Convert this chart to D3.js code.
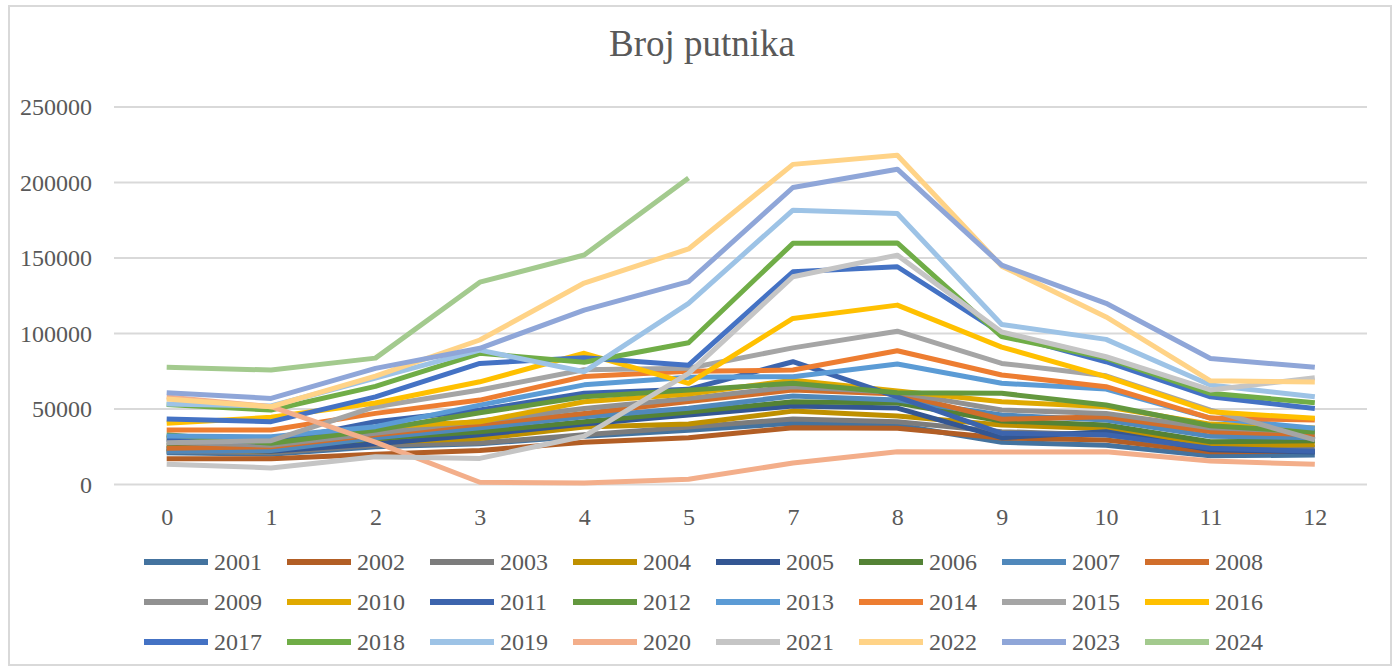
<!DOCTYPE html>
<meta charset="utf-8">
<script src="https://d3js.org/d3.v7.min.js"></script>
<style>
  body { margin: 0; background: #fff; }
  text { font-family: "Liberation Serif", "Times New Roman", serif; fill: #595959; }
</style>
<div id="chart"></div>
<script>

// categories on the x axis (there is no 6 in the source)
var months = ["0", "1", "2", "3", "4", "5", "7", "8", "9", "10", "11", "12"];
var years = ["2001", "2002", "2003", "2004", "2005", "2006", "2007", "2008",
             "2009", "2010", "2011", "2012", "2013", "2014", "2015", "2016",
             "2017", "2018", "2019", "2020", "2021", "2022", "2023", "2024"];
var yTicks = [0, 50000, 100000, 150000, 200000, 250000];

// passengers per year
var y2001 = [21000, 20000, 25000, 27000, 32000, 36000, 40500, 39400, 28000, 26000, 19000, 19500];
var y2002 = [17000, 17000, 20000, 22500, 28000, 31000, 37600, 37200, 30800, 29500, 21700, 22000];
var y2003 = [22000, 21000, 26000, 27500, 33000, 38000, 43400, 41600, 35000, 32800, 24000, 24500];
var y2004 = [23000, 22000, 28000, 30500, 38000, 40000, 48600, 45300, 39400, 37000, 25500, 26500];
var y2005 = [24000, 22000, 27000, 33000, 40000, 46000, 52000, 50600, 31000, 35000, 23000, 21500];
var y2006 = [26000, 24000, 30500, 35000, 41600, 48000, 54800, 54000, 42000, 39400, 28300, 29000];
var y2007 = [22000, 22500, 31000, 37500, 44900, 50500, 58600, 56000, 46000, 42700, 32000, 31000];
var y2008 = [24000, 25000, 33000, 40000, 47000, 55000, 62600, 60000, 43200, 44900, 35000, 33000];
var y2009 = [28000, 26000, 34000, 42000, 50400, 57000, 64700, 61000, 49300, 47100, 37500, 35000];
var y2010 = [31000, 29000, 38000, 41600, 54800, 60000, 69000, 62000, 54800, 51500, 40000, 37500];
var y2011 = [30000, 28000, 41600, 49300, 60400, 63000, 81300, 58000, 33900, 33000, 24000, 22000];
var y2012 = [33000, 27300, 36100, 47500, 58100, 62500, 67000, 60800, 60400, 52600, 38900, 34700];
var y2013 = [32100, 31600, 38300, 52600, 66000, 71000, 71400, 79800, 67000, 63200, 44000, 37200];
var y2014 = [36100, 36100, 47100, 55900, 71500, 75000, 75800, 88600, 72500, 64800, 44000, 42700];
var y2015 = [27700, 29000, 51500, 62600, 76000, 77000, 90500, 101500, 80200, 72000, 49300, 29500];
var y2016 = [40500, 44500, 54000, 68000, 86900, 67000, 110000, 118800, 91000, 71400, 48200, 43800];
var y2017 = [43400, 41600, 58000, 80200, 84000, 79000, 140900, 144200, 100000, 81300, 58100, 50400];
var y2018 = [53000, 49300, 65000, 86900, 81000, 93900, 159700, 160000, 98000, 83700, 60400, 54200];
var y2019 = [53300, 52000, 70500, 89000, 74700, 120000, 181700, 179500, 106000, 96100, 65900, 58100];
var y2020 = [58000, 51500, 28100, 1500, 1000, 3500, 14200, 21700, 21500, 21700, 15500, 13400];
var y2021 = [13400, 11000, 18400, 17300, 32000, 73600, 137600, 151900, 101000, 84600, 62600, 70700];
var y2022 = [56600, 51500, 71800, 95700, 133400, 156000, 212000, 218000, 144600, 111000, 68700, 67800];
var y2023 = [60800, 57000, 76900, 90200, 115500, 134300, 196700, 208800, 145300, 120000, 83500, 77600];
var y2024 = [77600, 75800, 83700, 134000, 152000, 203000, null, null, null, null, null, null];

var values = [y2001, y2002, y2003, y2004, y2005, y2006, y2007, y2008, y2009, y2010, y2011, y2012,
              y2013, y2014, y2015, y2016, y2017, y2018, y2019, y2020, y2021, y2022, y2023, y2024];

var colors = ["#44739F", "#B25E25", "#7C7C7C", "#BF9000", "#335693", "#548235",
              "#5088BB", "#D16E2B", "#919191", "#E0A900", "#3C64AD", "#63983E",
              "#5B9BD5", "#ED7D31", "#A5A5A5", "#FFC000", "#4472C4", "#70AD47",
              "#9DC3E6", "#F3AE8A", "#C5C5C5", "#FFD387", "#8FA6D8", "#A3CA8E"];

var width = 1400, height = 670;

var svg = d3.select("#chart").append("svg").attr("width", width).attr("height", height);

// chart frame
svg.append("rect").attr("x", 9).attr("y", 6).attr("width", 1382).attr("height", 659)
   .attr("fill", "#fff").attr("stroke", "#D9D9D9").attr("stroke-width", 2);

svg.append("text").attr("x", 702).attr("y", 56).attr("text-anchor", "middle")
   .style("font-size", "37px").text("Broj putnika");

var x = d3.scalePoint().domain(months).range([114.5, 1367]).padding(0.5);
var y = d3.scaleLinear().domain([0, 250000]).range([484.5, 107]);

// gridlines
svg.append("g").selectAll("line").data(yTicks).enter().append("line")
   .attr("x1", 114).attr("x2", 1367)
   .attr("y1", function(d) { return y(d); }).attr("y2", function(d) { return y(d); })
   .attr("stroke", "#D9D9D9").attr("stroke-width", 2);

// y axis labels
var yAxis = svg.append("g").attr("transform", "translate(92,0)")
   .call(d3.axisLeft(y).tickValues(yTicks).tickSize(0).tickPadding(0).tickFormat(d3.format("d")));
yAxis.select(".domain").remove();
yAxis.selectAll("text").style("font-size", "24px");

// x axis labels
var xAxis = svg.append("g").attr("transform", "translate(0,508)")
   .call(d3.axisBottom(x).tickSize(0).tickPadding(0));
xAxis.select(".domain").remove();
xAxis.selectAll("text").style("font-size", "24px");

var line = d3.line()
   .defined(function(d) { return d != null; })
   .x(function(d, i) { return x(months[i]); })
   .y(function(d) { return y(d); });

svg.append("g").selectAll("path").data(values).enter().append("path")
   .attr("d", line)
   .attr("fill", "none")
   .attr("stroke", function(d, i) { return colors[i]; })
   .attr("stroke-width", 5)
   .attr("stroke-linejoin", "round");

// legend, 8 per row
var legend = svg.append("g").selectAll("g").data(years).enter().append("g")
   .attr("transform", function(d, i) {
       return "translate(" + (144 + (i % 8) * 143) + "," + (562 + Math.floor(i / 8) * 40) + ")";
   });
legend.append("line").attr("x1", 0).attr("x2", 64).attr("y1", 0).attr("y2", 0)
   .attr("stroke", function(d, i) { return colors[i]; }).attr("stroke-width", 6);
legend.append("text").attr("x", 70).attr("y", 8).style("font-size", "24px")
   .text(function(d) { return d; });

</script>
